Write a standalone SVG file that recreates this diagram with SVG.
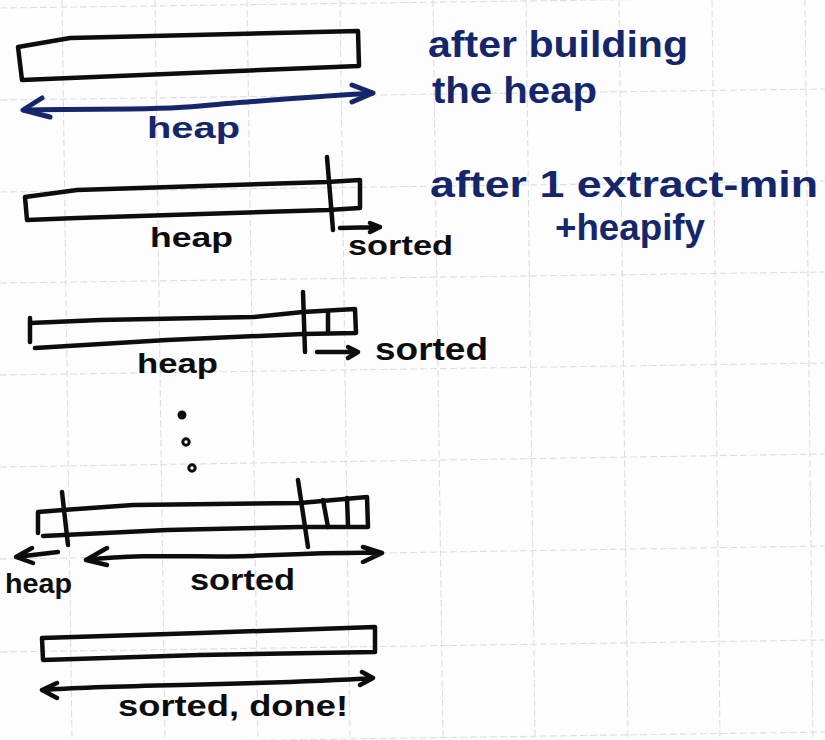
<svg xmlns="http://www.w3.org/2000/svg" width="825" height="740" viewBox="0 0 825 740">
<style>
.grid line{stroke:#dedede;stroke-width:1.1;stroke-dasharray:7 3}
.ink{fill:none;stroke:#0d0d0d;stroke-width:4.5;stroke-linecap:round;stroke-linejoin:round}
.blue{fill:none;stroke:#15266b;stroke-width:5;stroke-linecap:round;stroke-linejoin:round}
.tb{font-family:"Liberation Sans","DejaVu Sans",sans-serif;font-weight:bold;fill:#0d0d0d}
.tn{font-family:"Liberation Sans","DejaVu Sans",sans-serif;font-weight:bold;fill:#15266b}
.dot{fill:#fff;stroke:#0d0d0d;stroke-width:3}
</style>
<rect x="0" y="0" width="825" height="740" fill="#fdfdfd"/>
<g class="grid">
<line x1="62" y1="0" x2="72" y2="740"/>
<line x1="155" y1="0" x2="165" y2="740"/>
<line x1="247" y1="0" x2="258" y2="740"/>
<line x1="340" y1="0" x2="350" y2="740"/>
<line x1="433" y1="0" x2="443" y2="740"/>
<line x1="526" y1="0" x2="535" y2="740"/>
<line x1="619" y1="0" x2="628" y2="740"/>
<line x1="712" y1="0" x2="720" y2="740"/>
<line x1="805" y1="0" x2="813" y2="740"/>
<line x1="0" y1="8" x2="825" y2="-3"/>
<line x1="0" y1="100" x2="825" y2="89"/>
<line x1="0" y1="192" x2="825" y2="181"/>
<line x1="0" y1="283" x2="825" y2="272"/>
<line x1="0" y1="375" x2="825" y2="363"/>
<line x1="0" y1="467" x2="825" y2="454"/>
<line x1="0" y1="559" x2="825" y2="546"/>
<line x1="0" y1="652" x2="825" y2="640"/>
<line x1="0" y1="744" x2="825" y2="732"/>
</g>

<g id="step1">
<path class="ink" d="M18,47 L70,38 L358,31 L359,66 L22,80 Z"/>
<text class="tn" x="147" y="138" font-size="30" textLength="93" lengthAdjust="spacingAndGlyphs">heap</text>
</g>
<g id="label1">
<text class="tn" x="428" y="57" font-size="36" textLength="260" lengthAdjust="spacingAndGlyphs">after building</text>
<text class="tn" x="432" y="103" font-size="36" textLength="165" lengthAdjust="spacingAndGlyphs">the heap</text>
</g>

<g id="step2">
<path class="ink" d="M25,197 L77,190 L327,182 L360,180 L360,208 L328,210 L77,218 L27,220 Z"/>
<path class="ink" d="M327,157 L333,230"/>
<text class="tb" x="150" y="247" font-size="28" textLength="83" lengthAdjust="spacingAndGlyphs">heap</text>
<text class="tb" x="348" y="255" font-size="28" textLength="105" lengthAdjust="spacingAndGlyphs">sorted</text>
</g>
<g id="label2">
<text class="tn" x="430" y="197" font-size="36" textLength="388" lengthAdjust="spacingAndGlyphs">after 1 extract-min</text>
<text class="tn" x="555" y="240" font-size="36" textLength="150" lengthAdjust="spacingAndGlyphs">+heapify</text>
</g>

<g id="step3">
<path class="ink" d="M30,318 L30,342"/>
<path class="ink" d="M30,323 L100,320 L253,317 L303,312 L355,309 L356,333 L303,334 L167,340 L35,348"/>
<path class="ink" d="M303,292 L305,352"/>
<path class="ink" d="M328,312 L328,333"/>
<text class="tb" x="137" y="373" font-size="28" textLength="81" lengthAdjust="spacingAndGlyphs">heap</text>
<text class="tb" x="375" y="360" font-size="32" textLength="113" lengthAdjust="spacingAndGlyphs">sorted</text>
</g>

<g id="ellipsis">
<circle cx="182" cy="415" r="3.5" fill="#0d0d0d" stroke="#0d0d0d" stroke-width="2"/>
<circle class="dot" cx="186" cy="442" r="3.2"/>
<circle class="dot" cx="192" cy="468" r="3.2"/>
</g>

<g id="step4">
<path class="ink" d="M38,533 L38,512 L63,510 L133,505 L300,503 L367,497 L368,527 L300,527 L167,530 L43,536"/>
<path class="ink" d="M62,492 L68,545"/>
<path class="ink" d="M298,480 L308,547"/>
<path class="ink" d="M323,500 L328,527"/>
<path class="ink" d="M347,498 L348,525"/>
<text class="tb" x="5" y="593" font-size="27" textLength="67" lengthAdjust="spacingAndGlyphs">heap</text>
<text class="tb" x="190" y="590" font-size="30" textLength="105" lengthAdjust="spacingAndGlyphs">sorted</text>
</g>

<g id="step5">
<path class="ink" d="M42,638 L200,633 L375,627 L375,652 L200,655 L43,660 Z"/>
<text class="tb" x="118" y="716" font-size="30" textLength="230" lengthAdjust="spacingAndGlyphs">sorted, done!</text>
</g>

<g id="connectors">
<path class="blue" d="M24,110 C90,108 150,111 200,106 S330,96 372,93"/>
<path class="blue" d="M42,98 L23,110 L50,117"/>
<path class="blue" d="M352,85 L373,93 L352,102"/>
<path class="ink" d="M340,228 L380,227 M370,223 L380,227 L370,232"/>
<path class="ink" d="M317,352 L358,352 M348,347 L358,352 L348,358"/>
<path class="ink" d="M58,552 L16,557 M32,548 L16,557 L33,563"/>
<path class="ink" d="M86,560 C150,553 200,558 250,556 S340,552 382,553 M107,548 L86,560 L107,565 M363,547 L382,553 L363,562"/>
<path class="ink" d="M42,690 C120,684 250,686 373,678 M57,683 L42,690 L57,698 M362,672 L373,678 L360,685"/>
</g>
</svg>
